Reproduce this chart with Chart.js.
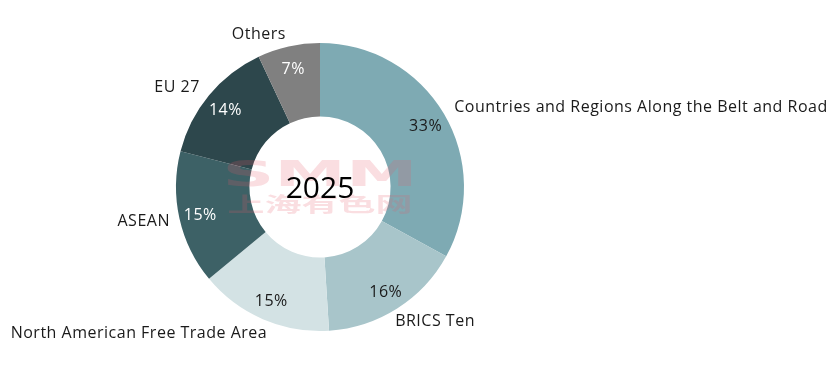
<!DOCTYPE html>
<html>
<head>
<meta charset="utf-8">
<script src="https://cdn.jsdelivr.net/npm/chart.js@4/dist/chart.umd.min.js"></script>
<style>
  html, body { margin: 0; padding: 0; background: #fff; }
  #wrap { width: 837px; height: 375px; position: relative; }
</style>
</head>
<body>
<div id="wrap"><canvas id="share-chart"></canvas></div>
<script>
// Share by region, 2025
var regions = ['Countries and Regions Along the Belt and Road', 'BRICS Ten', 'North American Free Trade Area', 'ASEAN', 'EU 27', 'Others'];
var shares = [33, 16, 15, 15, 14, 7];
var sliceColors = ['#7eaab3', '#a8c5ca', '#d3e2e4', '#3d6166', '#2d474c', '#808080'];
var pctColors = ['#1a1a1a', '#1a1a1a', '#1a1a1a', '#ffffff', '#ffffff', '#ffffff'];
var centerText = '2025';

var FONT = '"Open Sans", "Noto Sans", sans-serif';

// draws the percent inside each slice, the region name outside, and the year in the hole
var labelPlugin = {
    id: 'sliceLabels',
    afterDatasetsDraw: function (chart) {
        var ctx = chart.ctx;
        var meta = chart.getDatasetMeta(0);
        ctx.save();
        ctx.letterSpacing = '0.5px';
        meta.data.forEach(function (arc, i) {
            var mid = (arc.startAngle + arc.endAngle) / 2;
            var cx = arc.x, cy = arc.y;
            var cos = Math.cos(mid), sin = Math.sin(mid);
            var rIn = arc.outerRadius - (arc.outerRadius - arc.innerRadius) * 0.29;
            ctx.font = '16px ' + FONT;
            ctx.fillStyle = pctColors[i];
            ctx.textAlign = 'center';
            ctx.textBaseline = 'middle';
            ctx.fillText(shares[i] + '%', cx + cos * rIn, cy + sin * rIn + 2);

            // labels under the ring sit a little closer in horizontally
            var rOut = arc.outerRadius + 12;
            var side = cos >= 0 ? 1 : -1;
            var lx = cx + cos * rOut - side * Math.max(0, sin) * 10;
            var ly = cy + sin * rOut;
            if (sin > 0.5) ly += 3;
            ctx.fillStyle = '#1a1a1a';
            ctx.textAlign = side > 0 ? 'left' : 'right';
            ctx.fillText(regions[i], lx, ly);
        });
        ctx.letterSpacing = '0px';

        var c = meta.data[0];
        // faint watermark, stretched wide like the original logo
        ctx.fillStyle = 'rgba(230, 90, 105, 0.2)';
        ctx.textAlign = 'center';
        ctx.save();
        ctx.translate(c.x, c.y - 10);
        ctx.scale(2.0, 1);
        ctx.font = 'bold 36px "DejaVu Sans", sans-serif';
        ctx.fillText('SMM', 0, 0);
        ctx.restore();
        ctx.save();
        ctx.translate(c.x, c.y + 17);
        ctx.scale(1.85, 1);
        ctx.font = 'bold 20px "Noto Sans CJK SC", sans-serif';
        ctx.fillText('上海有色网', 0, 0);
        ctx.restore();

        ctx.fillStyle = '#000';
        ctx.font = '30px ' + FONT;
        ctx.fillText(centerText, c.x, c.y + 2);
        ctx.restore();
    }
};

new Chart(document.getElementById('share-chart').getContext('2d'), {
    type: 'doughnut',
    data: {
        labels: regions,
        datasets: [{
            data: shares,
            backgroundColor: sliceColors,
            borderWidth: 0,
            hoverOffset: 0
        }]
    },
    options: {
        responsive: true,
        maintainAspectRatio: false,
        animation: false,
        cutout: '49%',
        layout: { padding: { top: 43, bottom: 44, left: 176, right: 373 } },
        plugins: {
            legend: { display: false },
            tooltip: { enabled: false }
        }
    },
    plugins: [labelPlugin]
});
</script>
</body>
</html>
